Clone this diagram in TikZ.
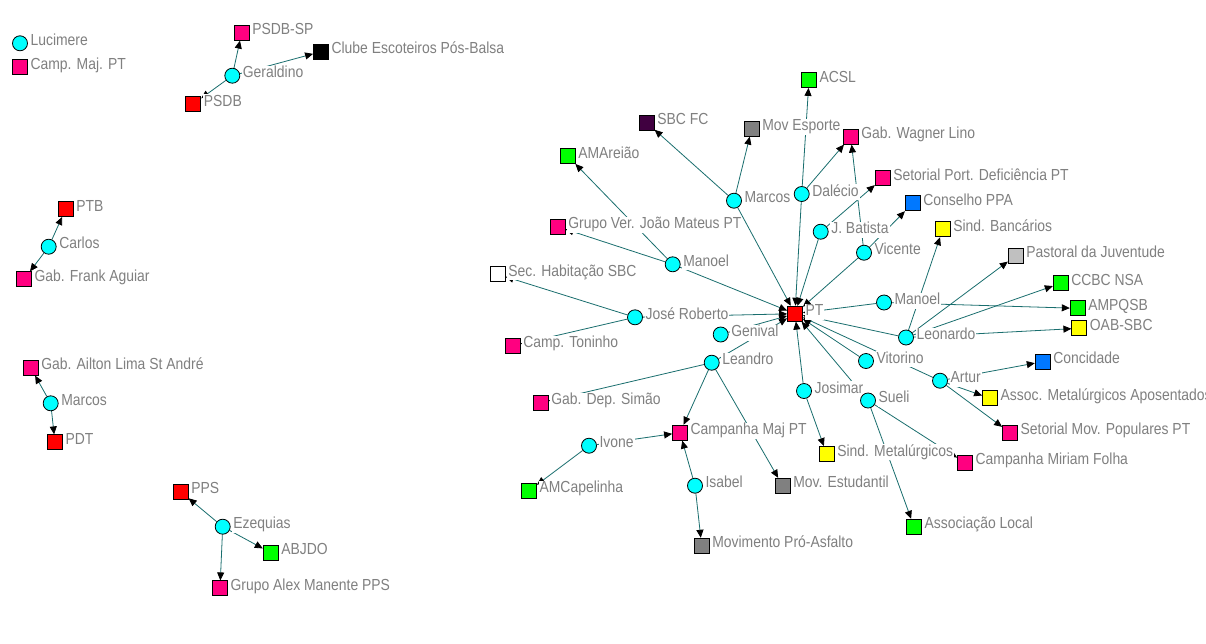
\documentclass[tikz,border=0pt]{standalone}
\usepackage{fontspec}
\setmainfont{Liberation Sans}[FakeStretch=0.87]
\usetikzlibrary{arrows.meta}
\definecolor{edgec}{RGB}{25,110,110}
\definecolor{lblc}{RGB}{128,128,128}
\definecolor{mag}{RGB}{255,0,128}
\definecolor{grn}{RGB}{0,255,0}
\definecolor{blu}{RGB}{0,120,255}
\definecolor{yel}{RGB}{255,255,0}
\definecolor{gry}{RGB}{128,128,128}
\definecolor{lgry}{RGB}{192,192,192}
\definecolor{purp}{RGB}{64,0,64}
\definecolor{cyn}{RGB}{0,255,255}
\definecolor{rd}{RGB}{255,0,0}
\pgfdeclarelayer{edgelayer}
\pgfdeclarelayer{labellayer}
\pgfsetlayers{edgelayer,labellayer,main}
\newcommand\mkact[4]{\node[actor] (#1) at (#2,#3) {};\begin{pgfonlayer}{labellayer}\node[lbl] at ([xshift=1.5pt,yshift=2pt]#1.east) {#4};\end{pgfonlayer}}
\newcommand\mkorg[5]{\node[org,fill=#5] (#1) at (#2,#3) {};\begin{pgfonlayer}{labellayer}\node[lbl] at ([xshift=1.5pt,yshift=2pt]#1.east) {#4};\end{pgfonlayer}}
\tikzset{
  actor/.style={circle, draw=black, line width=0.8pt, fill=cyn, minimum size=15pt, inner sep=0pt},
  org/.style={rectangle, draw=black, line width=0.8pt, minimum size=15pt, inner sep=0pt},
  lbl/.style={anchor=west, fill=white, text=lblc, inner xsep=1pt, inner ysep=1pt, text height=11pt, text depth=3pt, font=\fontsize{16}{18}\selectfont},
  edge/.style={draw=edgec, line width=0.8pt, -{Triangle[length=8pt,width=7pt,color=black]}}
}
\begin{document}
\begin{tikzpicture}[x=1pt,y=-1pt]
\useasboundingbox (0,0) rectangle (1206,643);
\begin{pgfonlayer}{edgelayer}
\fill[white] (0,0) rectangle (1206,643);
\end{pgfonlayer}
% small components
\mkact{luc}{20}{43.3}{Lucimere}
\mkorg{campmajpt}{20}{67.3}{Camp. Maj. PT}{mag}
\mkorg{psdbsp}{241.7}{32.7}{PSDB-SP}{mag}
\mkorg{clube}{321}{51.7}{Clube Escoteiros Pós-Balsa}{black}
\mkact{geraldino}{232.3}{75.7}{Geraldino}
\mkorg{psdb}{193.3}{104}{PSDB}{rd}
\mkorg{ptb}{65.7}{209}{PTB}{rd}
\mkact{carlos}{48.7}{246.7}{Carlos}
\mkorg{frank}{24}{279.3}{Gab. Frank Aguiar}{mag}
\mkorg{ailton}{30.7}{367.7}{Gab. Ailton Lima St André}{mag}
\mkact{marcosb}{50.7}{403.3}{Marcos}
\mkorg{pdt}{55}{442.3}{PDT}{rd}
\mkorg{pps}{180.7}{491.7}{PPS}{rd}
\mkact{ezequias}{222.7}{526.7}{Ezequias}
\mkorg{abjdo}{270.7}{552.7}{ABJDO}{grn}
\mkorg{alex}{220}{588.3}{Grupo Alex Manente PPS}{mag}
% central organisations
\mkorg{pt}{795}{313.7}{PT}{rd}
\mkorg{acsl}{809}{80}{ACSL}{grn}
\mkorg{sbcfc}{646.7}{122.7}{SBC FC}{purp}
\mkorg{movesp}{751.7}{128.7}{Mov Esporte}{gry}
\mkorg{gabwag}{850.7}{136.7}{Gab. Wagner Lino}{mag}
\mkorg{amareiao}{567.7}{156}{AMAreião}{grn}
\mkorg{setport}{882.7}{178.3}{Setorial Port. Deficiência PT}{mag}
\mkorg{conppa}{912.7}{203.3}{Conselho PPA}{blu}
\mkorg{sindbanc}{942.7}{229.3}{Sind. Bancários}{yel}
\mkorg{pastoral}{1015.7}{255.7}{Pastoral da Juventude}{lgry}
\mkorg{ccbc}{1060.7}{283.3}{CCBC NSA}{grn}
\mkorg{ampqsb}{1077.7}{308.3}{AMPQSB}{grn}
\mkorg{oab}{1079.3}{328.3}{OAB-SBC}{yel}
\mkorg{grupover}{557.7}{226.7}{Grupo Ver. João Mateus PT}{mag}
\mkorg{sechab}{497.7}{274.3}{Sec. Habitação SBC}{white}
\mkorg{camptoninho}{512.7}{345.7}{Camp. Toninho}{mag}
\mkorg{gabsimao}{540.7}{402.7}{Gab. Dep. Simão}{mag}
\mkorg{campmaj}{680}{432.7}{Campanha Maj PT}{mag}
\mkorg{amcap}{529}{490.7}{AMCapelinha}{grn}
\mkorg{movest}{782.7}{485.7}{Mov. Estudantil}{gry}
\mkorg{movpro}{701.7}{545.7}{Movimento Pró-Asfalto}{gry}
\mkorg{sindmet}{826.7}{454}{Sind. Metalúrgicos}{yel}
\mkorg{assocloc}{914}{526.7}{Associação Local}{grn}
\mkorg{concid}{1042.7}{361.7}{Concidade}{blu}
\mkorg{assocmet}{990}{398.3}{Assoc. Metalúrgicos Aposentados}{yel}
\mkorg{setmov}{1010}{432.7}{Setorial Mov. Populares PT}{mag}
\mkorg{campmir}{965}{462.7}{Campanha Miriam Folha}{mag}
% central actors
\mkact{marcos}{734}{200.7}{Marcos}
\mkact{dalecio}{801.7}{194}{Dalécio}
\mkact{jbatista}{820.7}{231.7}{J. Batista}
\mkact{vicente}{864}{252.7}{Vicente}
\mkact{manoela}{672.7}{264.3}{Manoel}
\mkact{joserob}{635}{317.3}{José Roberto}
\mkact{genival}{720.7}{334.5}{Genival}
\mkact{leandro}{711.7}{362.7}{Leandro}
\mkact{manoelb}{884}{302.5}{Manoel}
\mkact{leonardo}{906}{337.5}{Leonardo}
\mkact{vitorino}{866}{361}{Vitorino}
\mkact{artur}{940}{380.7}{Artur}
\mkact{josimar}{804}{391}{Josimar}
\mkact{sueli}{868}{400.5}{Sueli}
\mkact{ivone}{589}{445.7}{Ivone}
\mkact{isabel}{695}{485.7}{Isabel}
\begin{pgfonlayer}{edgelayer}
\foreach \a/\b in {geraldino/psdbsp, geraldino/clube, geraldino/psdb,
  carlos/ptb, carlos/frank, marcosb/ailton, marcosb/pdt,
  ezequias/pps, ezequias/abjdo, ezequias/alex,
  marcos/sbcfc, marcos/movesp, marcos/pt,
  dalecio/acsl, dalecio/gabwag, dalecio/pt,
  jbatista/setport, jbatista/pt,
  vicente/gabwag, vicente/conppa, vicente/pt,
  manoela/amareiao, manoela/grupover, manoela/pt,
  joserob/sechab, joserob/camptoninho, joserob/pt,
  genival/pt,
  leandro/pt, leandro/gabsimao, leandro/campmaj, leandro/movest,
  manoelb/pt, manoelb/ampqsb,
  leonardo/pt, leonardo/sindbanc, leonardo/pastoral, leonardo/ccbc, leonardo/oab,
  vitorino/pt,
  artur/pt, artur/concid, artur/assocmet, artur/setmov,
  josimar/pt, josimar/sindmet,
  sueli/pt, sueli/assocloc, sueli/campmir,
  ivone/campmaj, ivone/amcap,
  isabel/campmaj, isabel/movpro}
  \draw[edge] (\a) -- (\b);
\end{pgfonlayer}
\end{tikzpicture}
\end{document}
